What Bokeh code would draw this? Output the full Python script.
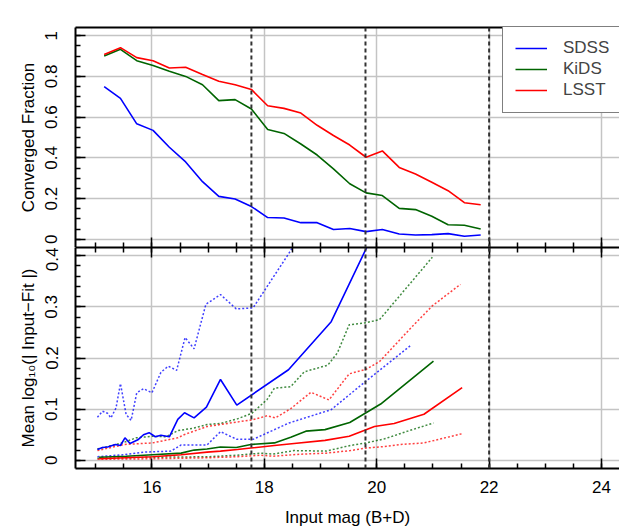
from bokeh.plotting import figure
from bokeh.layouts import column
from bokeh.models import (SingleIntervalTicker, LinearAxis, Span, Label, Legend, LegendItem,
                          CustomJSTickFormatter, Range1d)
from bokeh.embed import file_html
from bokeh.resources import INLINE

FONT = "Liberation Sans"

# ---------------- data: top panel (converged fraction) ----------------
mag_bins = [15.15, 15.44, 15.73, 16.02, 16.31, 16.60, 16.90, 17.19, 17.48, 17.77, 18.06, 18.35,
            18.65, 18.94, 19.23, 19.52, 19.81, 20.10, 20.40, 20.69, 20.98, 21.27, 21.56, 21.85]
frac_sdss = [0.750, 0.692, 0.567, 0.535, 0.452, 0.380, 0.283, 0.211, 0.198, 0.161, 0.107, 0.105,
             0.082, 0.082, 0.048, 0.053, 0.038, 0.048, 0.026, 0.021, 0.023, 0.028, 0.015, 0.021]
frac_kids = [0.900, 0.933, 0.877, 0.853, 0.825, 0.800, 0.759, 0.681, 0.686, 0.640, 0.539, 0.520,
             0.468, 0.414, 0.346, 0.273, 0.228, 0.215, 0.152, 0.146, 0.113, 0.072, 0.069, 0.051]
frac_lsst = [0.907, 0.941, 0.892, 0.877, 0.841, 0.845, 0.809, 0.776, 0.759, 0.736, 0.656, 0.643,
             0.620, 0.560, 0.510, 0.463, 0.403, 0.434, 0.353, 0.321, 0.280, 0.239, 0.180, 0.170]

# ---------------- data: bottom panel (mean log10 |input - fit|) ----------------
sdss_mean_mag = [15.03, 15.12, 15.21, 15.35, 15.44, 15.52, 15.61, 15.75, 15.85, 15.95, 16.06, 16.16,
                 16.31, 16.46, 16.58, 16.75, 16.97, 17.22, 17.51, 18.43, 19.19, 19.83, 20.10]
sdss_mean = [0.021, 0.025, 0.026, 0.031, 0.029, 0.044, 0.033, 0.040, 0.050, 0.054, 0.046, 0.049,
             0.046, 0.080, 0.093, 0.083, 0.104, 0.158, 0.108, 0.177, 0.271, 0.418, 0.480]
sdss_hi_mag = [15.03, 15.12, 15.21, 15.27, 15.36, 15.44, 15.54, 15.63, 15.73, 15.85, 16.00, 16.16,
               16.29, 16.44, 16.59, 16.75, 16.96, 17.22, 17.50, 17.80, 18.47, 18.70]
sdss_hi = [0.084, 0.096, 0.092, 0.083, 0.102, 0.150, 0.090, 0.078, 0.132, 0.140, 0.132, 0.172,
           0.184, 0.176, 0.240, 0.218, 0.305, 0.324, 0.296, 0.298, 0.410, 0.460]
sdss_lo_mag = [15.03, 15.50, 15.85, 16.34, 16.52, 16.98, 17.22, 17.51, 17.80, 18.44, 19.19, 19.81, 20.61]
sdss_lo = [0.007, 0.011, 0.016, 0.018, 0.030, 0.030, 0.056, 0.041, 0.041, 0.073, 0.099, 0.155, 0.225]

kids_mean_mag = [15.06, 15.54, 16.01, 16.52, 16.75, 16.98, 17.22, 17.50, 17.76, 18.18, 18.47, 18.74,
                 19.08, 19.52, 20.07, 21.01]
kids_mean = [0.006, 0.008, 0.011, 0.014, 0.020, 0.022, 0.026, 0.025, 0.031, 0.034, 0.045, 0.057,
             0.060, 0.074, 0.110, 0.194]
kids_hi_mag = [15.03, 15.50, 15.72, 16.01, 16.25, 16.46, 16.75, 16.98, 17.22, 17.52, 17.78, 17.92,
               18.05, 18.18, 18.47, 18.71, 19.13, 19.30, 19.51, 19.81, 20.05, 20.99]
kids_hi = [0.022, 0.035, 0.044, 0.047, 0.046, 0.058, 0.063, 0.070, 0.072, 0.081, 0.092, 0.106,
           0.119, 0.141, 0.144, 0.173, 0.186, 0.210, 0.265, 0.269, 0.275, 0.397]
kids_lo_mag = [15.03, 16.00, 17.00, 17.52, 17.94, 18.15, 18.53, 19.10, 19.53, 19.81, 20.14, 20.55, 21.01]
kids_lo = [0.004, 0.006, 0.007, 0.010, 0.014, 0.012, 0.019, 0.018, 0.029, 0.034, 0.042, 0.057, 0.073]

lsst_mean_mag = [15.06, 16.01, 16.52, 16.98, 17.22, 17.52, 17.76, 18.18, 18.53, 19.08, 19.51, 19.96,
                 20.31, 20.84, 21.52]
lsst_mean = [0.003, 0.007, 0.011, 0.016, 0.018, 0.021, 0.024, 0.029, 0.033, 0.039, 0.047, 0.066,
             0.072, 0.090, 0.142]
lsst_hi_mag = [15.03, 15.51, 16.01, 16.46, 16.57, 16.98, 17.22, 17.52, 17.78, 18.05, 18.20, 18.47,
               18.83, 19.15, 19.51, 19.81, 20.05, 20.61, 20.99, 21.49]
lsst_hi = [0.019, 0.031, 0.034, 0.044, 0.050, 0.066, 0.070, 0.075, 0.079, 0.087, 0.083, 0.101,
           0.133, 0.118, 0.169, 0.178, 0.193, 0.259, 0.302, 0.344]
lsst_lo_mag = [15.03, 16.00, 17.00, 17.52, 17.94, 18.15, 18.65, 19.10, 19.53, 19.81, 20.14, 20.43,
               20.84, 21.52]
lsst_lo = [0.002, 0.003, 0.005, 0.007, 0.010, 0.008, 0.012, 0.014, 0.019, 0.024, 0.027, 0.031,
           0.034, 0.052]

survey_names = ["SDSS", "GAMA", "WAVES"]
survey_limits = [17.77, 19.8, 22.0]

C_SDSS, C_KIDS, C_LSST = "#0000ff", "#006400", "#ff0000"

X_RANGE = (14.64, 24.32)
W = 619
TOP_H = 247
BOT_H = 285
FS = "17px"

fmt = CustomJSTickFormatter(code="return (Math.round(tick*1000)/1000).toString();")


def hide_labels(ax):
    ax.major_label_text_font_size = "0px"
    ax.major_label_text_color = None
    ax.major_label_standoff = 0


def style_common(p, y_interval, y_minor):
    xt = SingleIntervalTicker(interval=2, num_minor_ticks=4)
    yt = SingleIntervalTicker(interval=y_interval, num_minor_ticks=y_minor)
    p.xaxis.ticker = xt
    p.xgrid.ticker = xt
    p.yaxis.ticker = yt
    p.ygrid.ticker = yt
    for g in (p.xgrid, p.ygrid):
        g.grid_line_color = "#c4c4c4"
        g.grid_line_width = 1.5
    for ax in (p.xaxis[0], p.yaxis[0]):
        ax.axis_line_width = 2
        ax.axis_line_color = "black"
        ax.major_tick_in = 10
        ax.major_tick_out = 0
        ax.minor_tick_in = 5
        ax.minor_tick_out = 0
        ax.major_tick_line_width = 1.5
        ax.minor_tick_line_width = 1.5
        ax.major_tick_line_color = "black"
        ax.minor_tick_line_color = "black"
        ax.major_label_text_font = FONT
        ax.major_label_text_font_size = FS
        ax.major_label_text_color = "black"
        ax.axis_label_text_font = FONT
        ax.axis_label_text_font_size = FS
        ax.axis_label_text_font_style = "normal"
        ax.axis_label_text_color = "black"
    p.yaxis.major_label_orientation = "vertical"
    p.yaxis.formatter = fmt
    p.yaxis.major_label_standoff = 18
    p.yaxis.axis_label_standoff = 5
    p.outline_line_color = None
    p.background_fill_color = "white"
    p.border_fill_color = "white"
    for loc in survey_limits:
        p.add_layout(Span(location=loc, dimension="height", line_color="#333333",
                          line_dash="4 3", line_width=2))
    return xt


# ---------------- top panel ----------------
top = figure(width=W, height=TOP_H, x_range=Range1d(*X_RANGE), y_range=Range1d(-0.04, 1.04),
             output_backend="svg", toolbar_location=None,
             min_border_left=75, min_border_right=0, min_border_top=27, min_border_bottom=0)
style_common(top, 0.2, 4)
hide_labels(top.xaxis[0])
top.yaxis.axis_label = "Converged Fraction"

top_border = LinearAxis(ticker=SingleIntervalTicker(interval=2, num_minor_ticks=0),
                        major_tick_in=0, major_tick_out=0, minor_tick_in=0, minor_tick_out=0,
                        axis_line_width=2, axis_line_color="black")
hide_labels(top_border)
top.add_layout(top_border, "above")

r1 = top.line(mag_bins, frac_sdss, line_color=C_SDSS, line_width=1.6)
r2 = top.line(mag_bins, frac_kids, line_color=C_KIDS, line_width=1.6)
r3 = top.line(mag_bins, frac_lsst, line_color=C_LSST, line_width=1.6)

legend = Legend(items=[LegendItem(label="SDSS", renderers=[r1]),
                       LegendItem(label="KiDS", renderers=[r2]),
                       LegendItem(label="LSST", renderers=[r3])],
                location=(427, 134), margin=0, padding=12, spacing=1,
                glyph_width=32, glyph_height=20, label_height=20, label_standoff=16,
                label_text_font=FONT, label_text_font_size=FS,
                border_line_color="black", border_line_width=1.5,
                background_fill_color="white", background_fill_alpha=1.0)
top.add_layout(legend)

for name, loc in zip(survey_names, survey_limits):
    top.add_layout(Label(x=loc, y=1.089, text=name, text_align="center", text_baseline="middle",
                         text_font=FONT, text_font_size=FS, text_color="black"))

# ---------------- bottom panel ----------------
bot = figure(width=W, height=BOT_H, x_range=top.x_range, y_range=Range1d(-0.016, 0.416),
             output_backend="svg", toolbar_location=None,
             min_border_left=75, min_border_right=0, min_border_top=0, min_border_bottom=64)
xt_bot = style_common(bot, 0.1, 5)
bot.xaxis.major_label_standoff = 12
bot.xaxis.axis_label = "Input mag (B+D)"
bot.xaxis.axis_label_standoff = 12
bot.yaxis.axis_label = "Mean log\u2081\u2080(| Input\u2212Fit |)"

bot_top_axis = LinearAxis(ticker=xt_bot, major_tick_in=10, major_tick_out=0, minor_tick_in=5,
                          minor_tick_out=0, major_tick_line_width=1.5, minor_tick_line_width=1.5,
                          axis_line_width=2, axis_line_color="black")
hide_labels(bot_top_axis)
bot.add_layout(bot_top_axis, "above")

DOT = "2 2"
for xs, ys, col in [(sdss_hi_mag, sdss_hi, C_SDSS), (sdss_lo_mag, sdss_lo, C_SDSS),
                    (kids_hi_mag, kids_hi, C_KIDS), (kids_lo_mag, kids_lo, C_KIDS),
                    (lsst_hi_mag, lsst_hi, C_LSST), (lsst_lo_mag, lsst_lo, C_LSST)]:
    bot.line(xs, ys, line_color=col, line_width=1.5, line_dash=DOT, line_alpha=0.75)

bot.line(kids_mean_mag, kids_mean, line_color=C_KIDS, line_width=1.6)
bot.line(lsst_mean_mag, lsst_mean, line_color=C_LSST, line_width=1.6)
bot.line(sdss_mean_mag, sdss_mean, line_color=C_SDSS, line_width=1.6)

layout = column(top, bot, spacing=0)

with open("out.html", "w") as f:
    f.write(file_html(layout, INLINE))
